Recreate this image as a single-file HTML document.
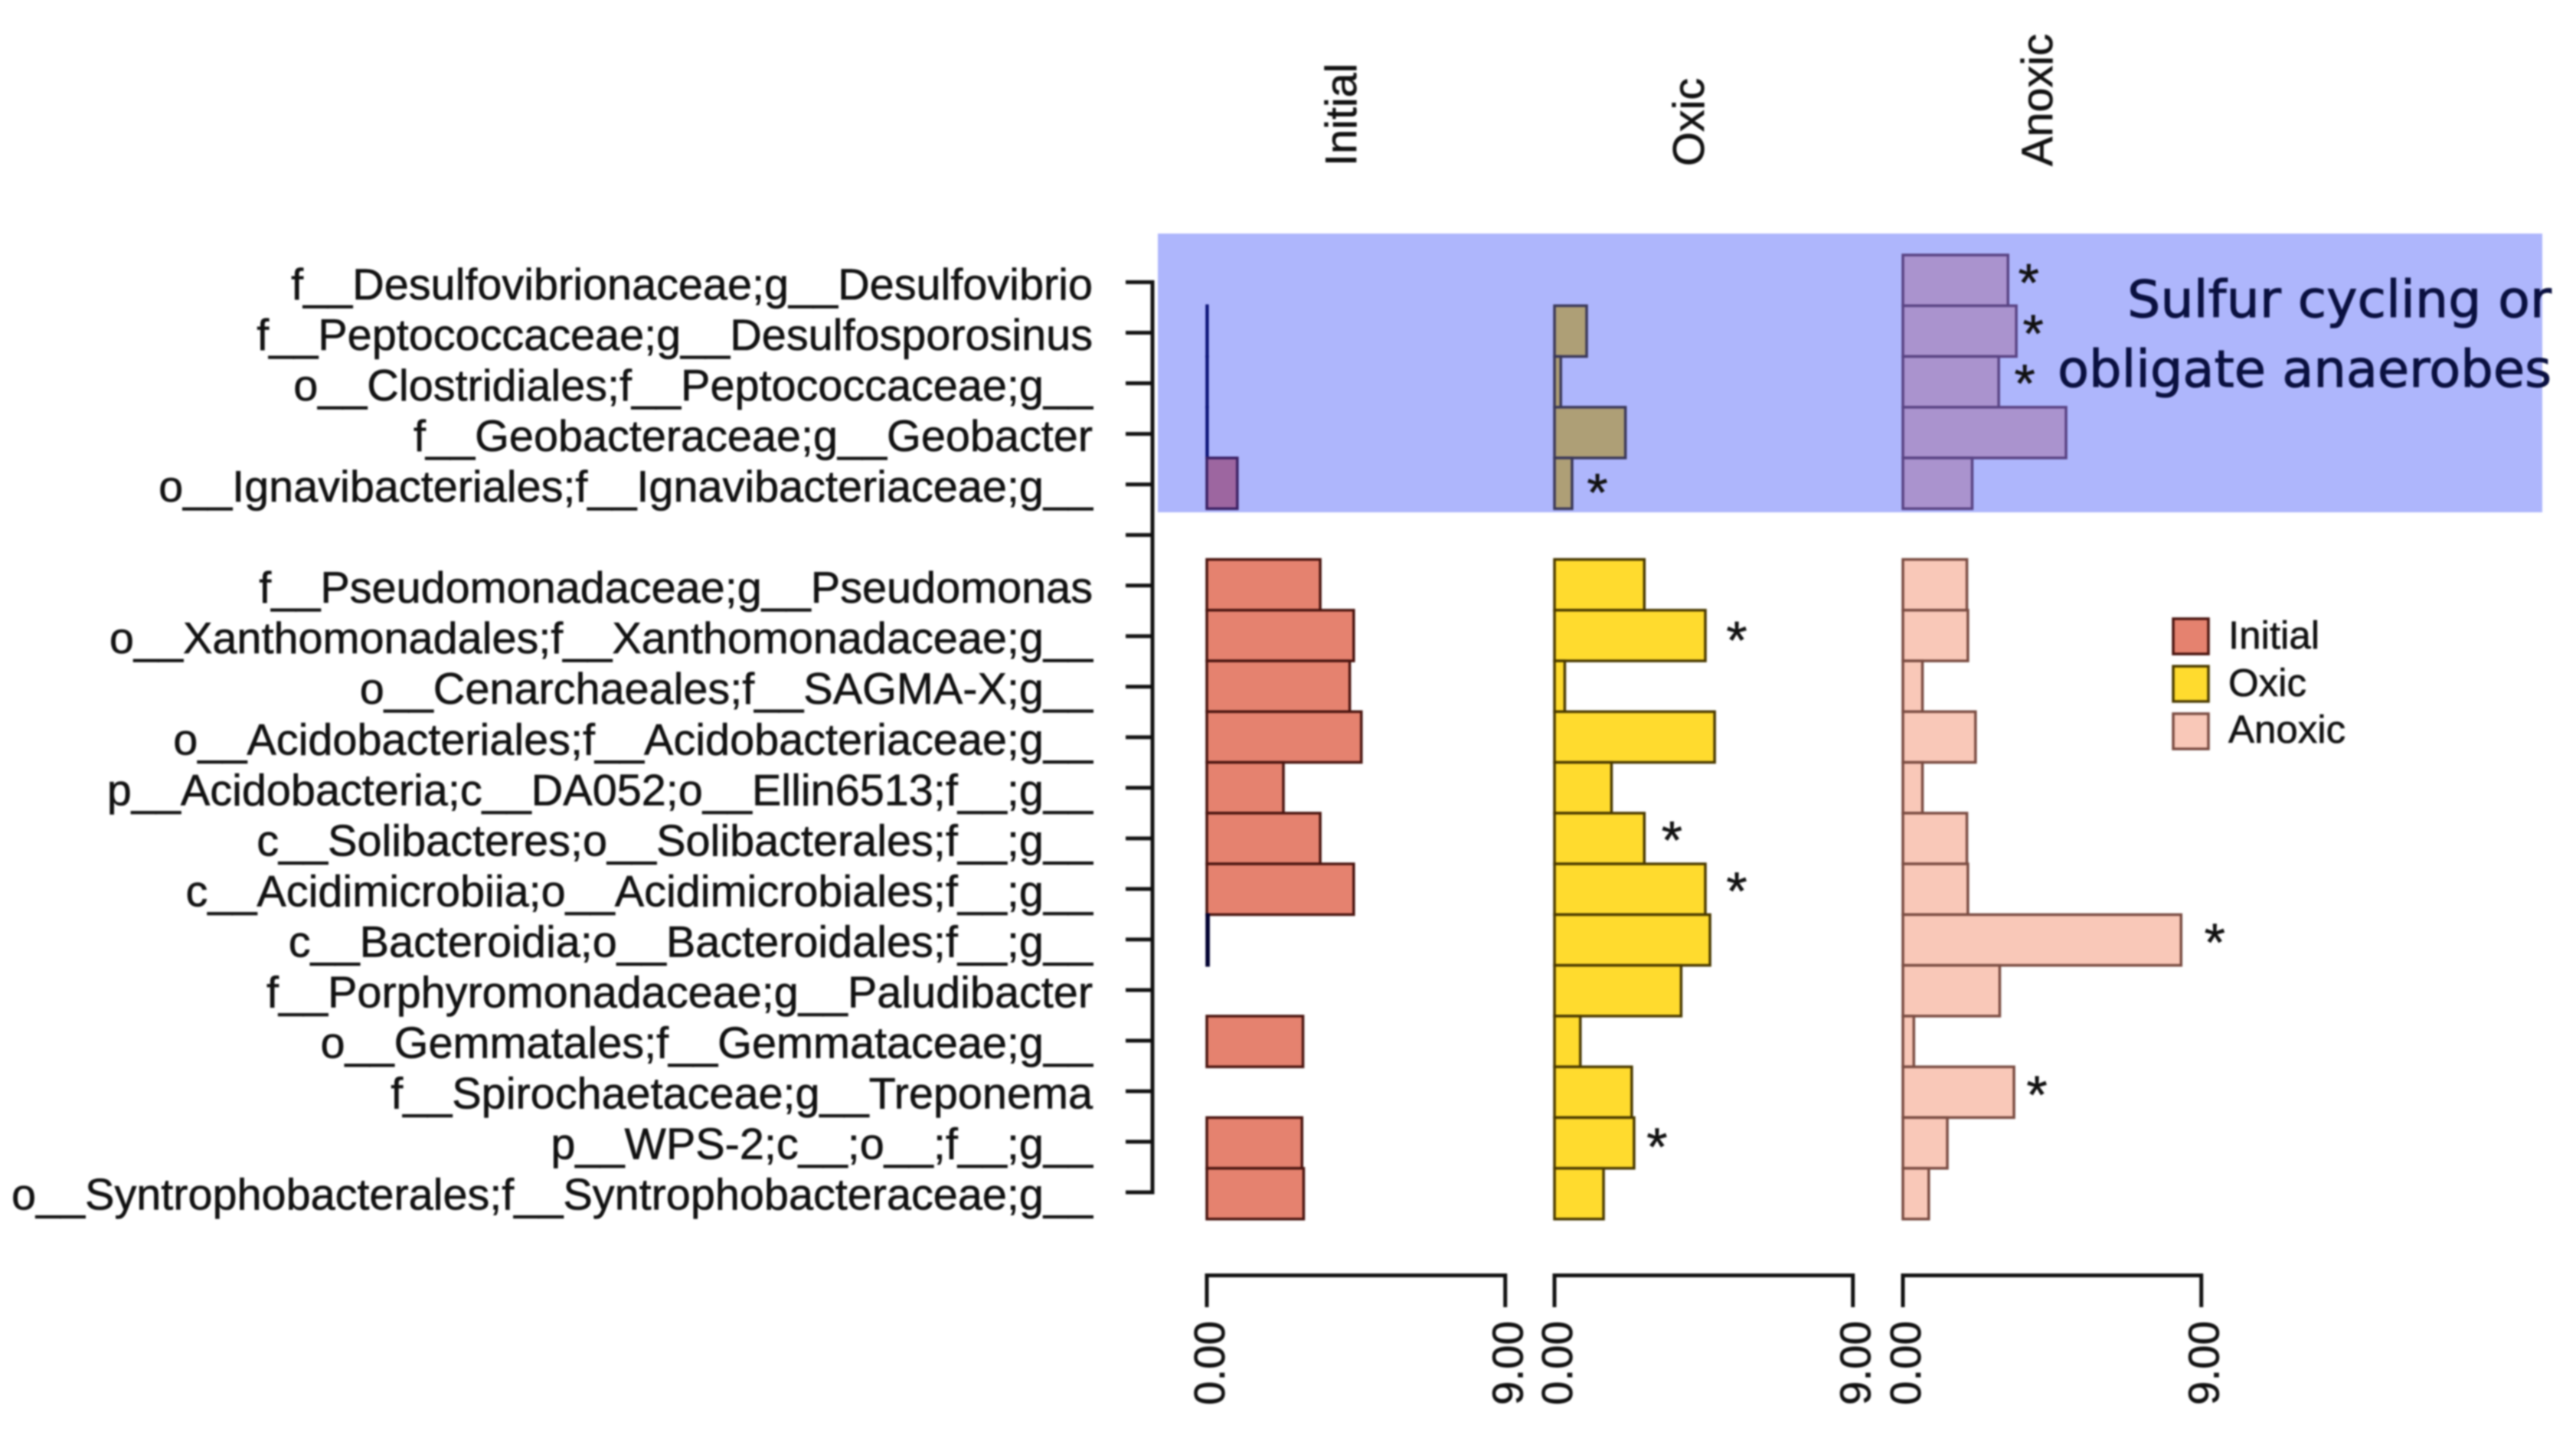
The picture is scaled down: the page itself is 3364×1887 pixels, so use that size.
<!DOCTYPE html>
<html lang="en">
<head>
<meta charset="utf-8">
<title>Taxa abundance by treatment</title>
<style>
html,body{margin:0;padding:0;background:#fff;width:3364px;height:1887px;overflow:hidden}
svg{display:block;filter:blur(1px)}
text{font-family:"Liberation Sans",Arial,sans-serif;fill:#111;stroke:#111;stroke-width:.6}
</style>
</head>
<body>
<svg id="chart" xmlns="http://www.w3.org/2000/svg" width="3364" height="1887" viewBox="0 0 3364 1887">
  <rect x="0" y="0" width="3364" height="1887" fill="#fff"/>
  <g id="panels"></g>
  <rect x="1512" y="305" width="1808" height="364" fill="#1e35f7" fill-opacity="0.36"/>
  <g id="stars"></g>
  <g id="yaxis"></g>
  <g id="xaxes"></g>
  <text x="3332" y="414" text-anchor="end" textLength="554" lengthAdjust="spacingAndGlyphs" style="font-family:'DejaVu Sans',sans-serif;font-size:67px;fill:#0a1040;stroke:#0a1040;stroke-width:1">Sulfur cycling or</text>
  <text x="3332" y="505" text-anchor="end" textLength="645" lengthAdjust="spacingAndGlyphs" style="font-family:'DejaVu Sans',sans-serif;font-size:67px;fill:#0a1040;stroke:#0a1040;stroke-width:1">obligate anaerobes</text>
  <g>
    <rect x="2838" y="808" width="46" height="46" fill="#e5826f" stroke="#4a1510" stroke-width="3.5"/>
    <text x="2910" y="847" font-size="51">Initial</text>
    <rect x="2838" y="870" width="46" height="46" fill="#ffdb2e" stroke="#4a3a00" stroke-width="3.5"/>
    <text x="2910" y="909" font-size="51">Oxic</text>
    <rect x="2838" y="932" width="46" height="46" fill="#f9c8b8" stroke="#7a4c42" stroke-width="3.5"/>
    <text x="2910" y="970" font-size="51">Anoxic</text>
  </g>
</svg>
<script>
const taxa = ["f__Desulfovibrionaceae;g__Desulfovibrio","f__Peptococcaceae;g__Desulfosporosinus","o__Clostridiales;f__Peptococcaceae;g__","f__Geobacteraceae;g__Geobacter","o__Ignavibacteriales;f__Ignavibacteriaceae;g__","","f__Pseudomonadaceae;g__Pseudomonas","o__Xanthomonadales;f__Xanthomonadaceae;g__","o__Cenarchaeales;f__SAGMA-X;g__","o__Acidobacteriales;f__Acidobacteriaceae;g__","p__Acidobacteria;c__DA052;o__Ellin6513;f__;g__","c__Solibacteres;o__Solibacterales;f__;g__","c__Acidimicrobiia;o__Acidimicrobiales;f__;g__","c__Bacteroidia;o__Bacteroidales;f__;g__","f__Porphyromonadaceae;g__Paludibacter","o__Gemmatales;f__Gemmataceae;g__","f__Spirochaetaceae;g__Treponema","p__WPS-2;c__;o__;f__;g__","o__Syntrophobacterales;f__Syntrophobacteraceae;g__"];
const initialValues = [null,0.02,0.02,0.02,0.92,null,3.42,4.43,4.31,4.66,2.31,3.42,4.43,0.05,0,2.90,0,2.87,2.92];
const oxicValues = [null,0.97,0.19,2.14,0.53,null,2.71,4.55,0.31,4.83,1.72,2.71,4.55,4.69,3.82,0.78,2.33,2.40,1.48];
const anoxicValues = [3.17,3.42,2.89,4.92,2.09,null,1.93,1.96,0.59,2.19,0.59,1.93,1.96,8.39,2.92,0.33,3.35,1.34,0.78];
const significantOxic = [4,7,11,12,17];
const significantAnoxic = [0,1,2,13,16];
const axisTickValues = [0,9];
const axisTickLabels = ["0.00","9.00"];

const NS = "http://www.w3.org/2000/svg";
const PX_PER_UNIT = 43.3;
const ROW_TOP = 333, ROW_H = 66.26;
const TICK_TOP = 368.5, TICK_STEP = 66.03;
const panels = [
  {name:"initial", title:"Initial", left:1576, values:initialValues, fill:"#e5826f", stroke:"#4a1510", stars:[]},
  {name:"oxic", title:"Oxic", left:2030, values:oxicValues, fill:"#ffdb2e", stroke:"#4a3a00", stars:significantOxic},
  {name:"anoxic", title:"Anoxic", left:2485, values:anoxicValues, fill:"#f9c8b8", stroke:"#7a4c42", stars:significantAnoxic}
];
/* hand placement of each asterisk relative to its bar end, by panel and row */
const starNudge = {
  oxic:{4:[33,2],7:[41,-4],11:[36,-8],12:[41,-8],17:[30,-5]},
  anoxic:{0:[27,-7],1:[22,-7],2:[34,-8],13:[44,-7],16:[30,-7]}
};

function xScale(left, v){ return left + v * PX_PER_UNIT; }
function rowTop(i){ return ROW_TOP + i * ROW_H; }
function tickY(i){ return TICK_TOP + i * TICK_STEP; }
function mk(tag, attrs, parent){
  const el = document.createElementNS(NS, tag);
  for (const k in attrs) el.setAttribute(k, attrs[k]);
  parent.appendChild(el);
  return el;
}

const gPanels = document.getElementById("panels");
const gStars = document.getElementById("stars");
const gY = document.getElementById("yaxis");
const gX = document.getElementById("xaxes");

panels.forEach(function(p){
  p.values.forEach(function(v, i){
    if (v === null) return;
    const isZero = v === 0;
    const isTiny = v > 0 && v < 0.1;
    const bar = mk("rect", {
      x: xScale(p.left, 0), y: rowTop(i),
      width: xScale(p.left, v) - xScale(p.left, 0), height: ROW_H,
      fill: p.fill, stroke: isZero ? "#bbb" : (isTiny ? "#000030" : p.stroke), "stroke-width": isZero ? 2 : 3.5
    }, gPanels);
    
    
  });

  p.stars.forEach(function(i){
    const n = starNudge[p.name][i] || [30,-6];
    const star = mk("text", {
      x: xScale(p.left, p.values[i]) + n[0],
      y: rowTop(i) + ROW_H / 2 + n[1] + 34,
      "text-anchor": "middle", "font-size": 70
    }, gStars);
    star.textContent = "*";
    
    
  });

  const title = mk("text", {
    transform: "translate(" + (p.left + 195) + ",217) rotate(-90)",
    "font-size": 57.6
  }, gX);
  title.textContent = p.title;
  
  

  const x0 = xScale(p.left, axisTickValues[0]);
  const x1 = xScale(p.left, axisTickValues[axisTickValues.length - 1]);
  const bracket = mk("path", {
    d: "M" + x0 + " 1707V1665.5H" + x1 + "V1707",
    fill: "none", stroke: "#111", "stroke-width": 5
  }, gX);
  
  

  axisTickValues.forEach(function(t, k){
    const lab = mk("text", {
      transform: "translate(" + (xScale(p.left, t) + 23) + ",1725) rotate(-90)",
      "text-anchor": "end", "font-size": 56.5
    }, gX);
    lab.textContent = axisTickLabels[k];
    
    
  });
});

const axisLine = mk("line", {
  x1: 1505, x2: 1505, y1: tickY(0) - 2.5, y2: tickY(taxa.length - 1) + 2.5,
  stroke: "#111", "stroke-width": 5
}, gY);



taxa.forEach(function(name, i){
  const tick = mk("line", {
    x1: 1470, x2: 1505, y1: tickY(i), y2: tickY(i), stroke: "#111", "stroke-width": 5
  }, gY);
  
  
  if (!name) return;
  const lab = mk("text", {
    x: 1427, y: tickY(i) + 22.5, "text-anchor": "end", "font-size": 57.6
  }, gY);
  lab.textContent = name;
  
  
});
</script>
</body>
</html>
